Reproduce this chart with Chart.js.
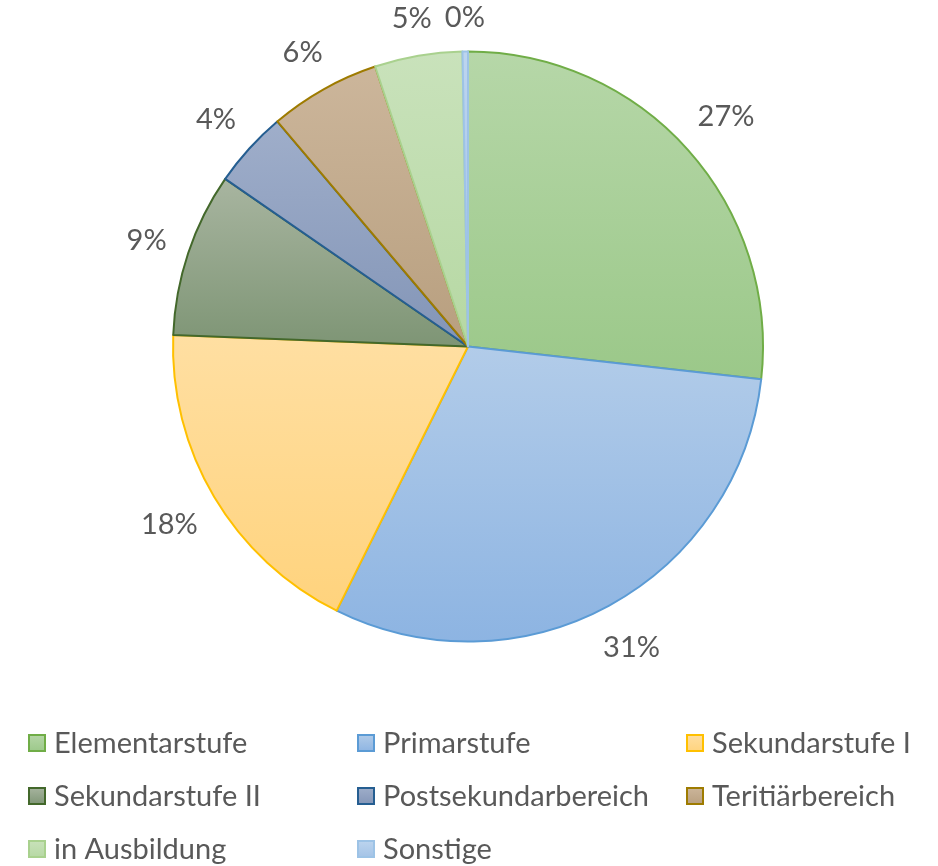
<!DOCTYPE html>
<html><head><meta charset="utf-8">
<script src="https://cdn.jsdelivr.net/npm/chart.js@4.4.1/dist/chart.umd.min.js"></script>
<style>html,body{margin:0;padding:0;background:#fff}#wrap{width:938px;height:866px;position:relative}</style>
</head><body><div id="wrap"><canvas id="c" width="938" height="866"></canvas></div>
<script>
const categories = ['Elementarstufe','Primarstufe','Sekundarstufe I','Sekundarstufe II','Postsekundarbereich','Teritiärbereich','in Ausbildung','Sonstige'];
const shares = [26.8, 30.6, 18.3, 9.0, 4.2, 6.1, 4.8, 0.3];
const fillTop = ['#b6d7a8','#b2cce9','#ffdfa2','#a8b5a0','#9faeca','#ccb69b','#c9e2bb','#bdd5ef'];
const fillBottom = ['#9bc889','#8db4e2','#ffd37d','#7e9575','#8395b7','#b89f7f','#b6d8a3','#a3c2e6'];
const borderColors = ['#70ad47','#5b9bd5','#ffc000','#43682b','#255e91','#9e7b00','#a9d18e','#9dc3e6'];

const FONT = "Lato, 'Open Sans', sans-serif";
const TEXT = '#595959';

const gradientPlugin = {
  id: 'sliceGradient',
  beforeDatasetsDraw(chart) {
    const ctx = chart.ctx;
    const meta = chart.getDatasetMeta(0);
    meta.data.forEach((el, i) => {
      const p = el.getProps(['x','y','startAngle','endAngle','outerRadius'], true);
      let ys = [p.y, p.y + p.outerRadius*Math.sin(p.startAngle), p.y + p.outerRadius*Math.sin(p.endAngle)];
      for (let k = -2; k <= 2; k++) {
        const top = -Math.PI/2 + 2*Math.PI*k, bot = Math.PI/2 + 2*Math.PI*k;
        if (top > p.startAngle && top < p.endAngle) ys.push(p.y - p.outerRadius);
        if (bot > p.startAngle && bot < p.endAngle) ys.push(p.y + p.outerRadius);
      }
      const y0 = Math.min(...ys), y1 = Math.max(...ys);
      const g = ctx.createLinearGradient(0, y0, 0, Math.max(y1, y0+1));
      g.addColorStop(0, fillTop[i]);
      g.addColorStop(1, fillBottom[i]);
      el.options = Object.assign({}, el.options, {backgroundColor: g});
    });
  }
};

const labelPlugin = {
  id: 'outsideLabels',
  afterDatasetsDraw(chart) {
    const ctx = chart.ctx;
    const meta = chart.getDatasetMeta(0);
    const total = shares.reduce((a,b)=>a+b,0);
    ctx.save();
    ctx.font = '29px ' + FONT;
    ctx.fillStyle = TEXT;
    ctx.textAlign = 'center';
    ctx.textBaseline = 'middle';
    meta.data.forEach((el, i) => {
      const p = el.getProps(['x','y','startAngle','endAngle','outerRadius'], true);
      const mid = (p.startAngle + p.endAngle)/2;
      const txt = Math.round(shares[i]/total*100) + '%';
      const w = ctx.measureText(txt).width, h = 30;
      const ux = Math.cos(mid), uy = Math.sin(mid);
      const d = p.outerRadius + 20 + Math.abs(ux)*w/2 + Math.abs(uy)*h/2;
      ctx.fillText(txt, p.x + ux*d, p.y + uy*d + 1);
    });
    ctx.restore();
  }
};

const legendPlugin = {
  id: 'gridLegend',
  afterDraw(chart) {
    const ctx = chart.ctx;
    const colX = [28, 357, 686];
    const rowY = [743, 796, 849];
    ctx.save();
    ctx.font = '29px ' + FONT;
    ctx.textBaseline = 'middle';
    ctx.textAlign = 'left';
    categories.forEach((name, i) => {
      const x = colX[i % 3], y = rowY[Math.floor(i/3)];
      const g = ctx.createLinearGradient(0, y-9, 0, y+9);
      g.addColorStop(0, fillTop[i]); g.addColorStop(1, fillBottom[i]);
      ctx.fillStyle = g;
      ctx.fillRect(x, y-9, 18, 18);
      ctx.strokeStyle = borderColors[i];
      ctx.lineWidth = 2;
      ctx.strokeRect(x+1, y-8, 16, 16);
      ctx.fillStyle = TEXT;
      ctx.fillText(name, x + 26, y + 1);
    });
    ctx.restore();
  }
};

new Chart(document.getElementById('c'), {
  type: 'pie',
  data: {
    labels: categories,
    datasets: [{
      data: shares,
      backgroundColor: fillBottom,
      borderColor: borderColors,
      borderWidth: 2,
      borderJoinStyle: 'round'
    }]
  },
  options: {
    responsive: false,
    animation: false,
    radius: 295,
    layout: { padding: { top: 51, bottom: 224, left: 0, right: 2 } },
    plugins: { legend: { display: false }, tooltip: { enabled: false } }
  },
  plugins: [gradientPlugin, labelPlugin, legendPlugin]
});
</script>
</body></html>
